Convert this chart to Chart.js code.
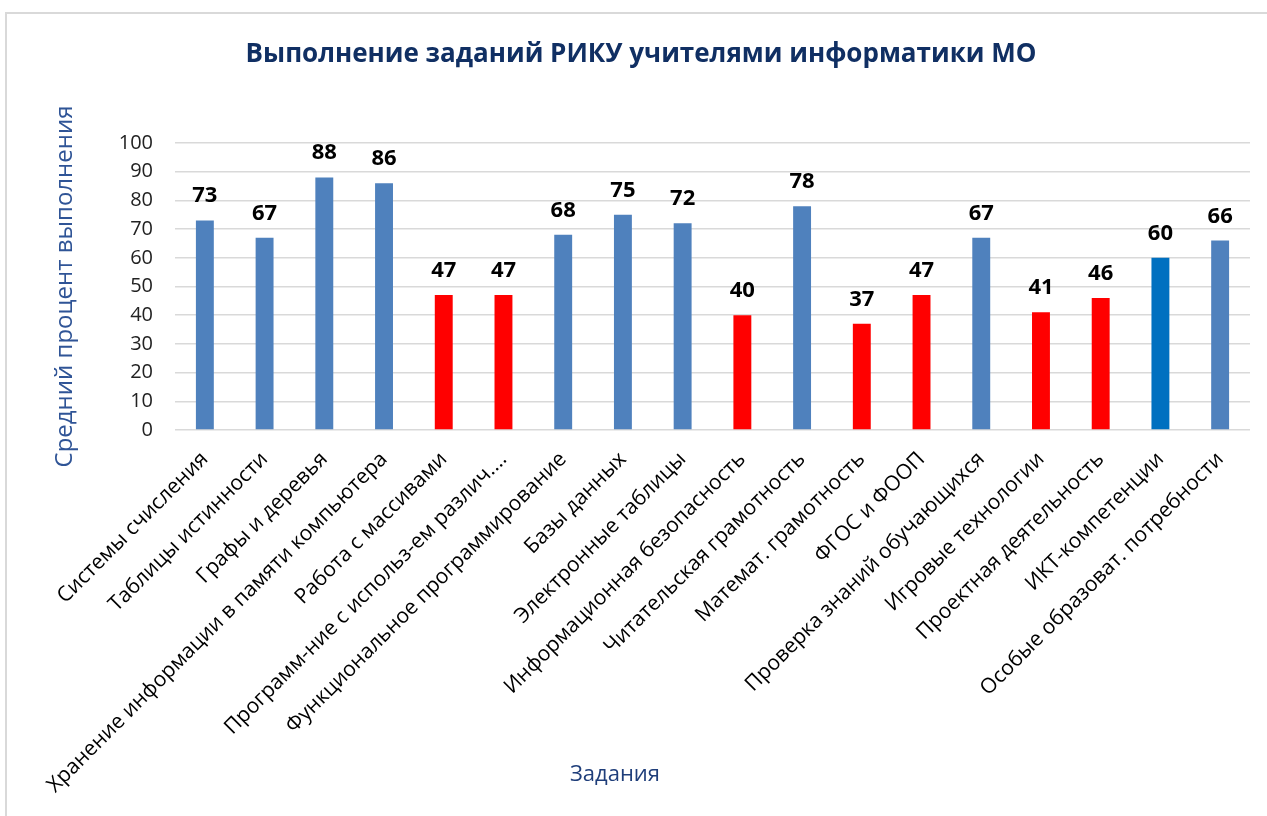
<!DOCTYPE html>
<html><head><meta charset="utf-8">
<script src="https://cdn.jsdelivr.net/npm/chart.js@4.4.1/dist/chart.umd.min.js"></script>
<style>
html,body{margin:0;padding:0;background:#fff;}
#wrap{position:relative;width:1267px;height:816px;}
#frame{position:absolute;left:5px;top:12px;right:-5px;bottom:-5px;border-top:2px solid #d9d9d9;border-left:2px solid #d9d9d9;pointer-events:none;}
canvas{position:absolute;left:0;top:0;}
</style></head>
<body>
<div id="wrap"><canvas id="c" width="1267" height="816"></canvas><div id="frame"></div></div>
<script>
const categories = [
  "Системы счисления",
  "Таблицы истинности",
  "Графы и деревья",
  "Хранение информации в памяти компьютера",
  "Работа с массивами",
  "Программ-ние с использ-ем различ....",
  "Функциональное программирование",
  "Базы данных",
  "Электронные таблицы",
  "Информационная безопасность",
  "Читательская грамотность",
  "Математ. грамотность",
  "ФГОС и ФООП",
  "Проверка знаний обучающихся",
  "Игровые технологии",
  "Проектная деятельность",
  "ИКТ-компетенции",
  "Особые образоват. потребности"
];
const values = [73, 67, 88, 86, 47, 47, 68, 75, 72, 40, 78, 37, 47, 67, 41, 46, 60, 66];
const barColors = ["#4F81BD","#4F81BD","#4F81BD","#4F81BD","#FF0000","#FF0000","#4F81BD","#4F81BD","#4F81BD","#FF0000","#4F81BD","#FF0000","#FF0000","#4F81BD","#FF0000","#FF0000","#0070C0","#4F81BD"];
const yTicks = [0,10,20,30,40,50,60,70,80,90,100];
const titleText = "Выполнение заданий РИКУ учителями информатики МО";
const yTitle = "Средний процент выполнения";
const xTitle = "Задания";

const FONT = "'Open Sans', Lato, sans-serif";

const valueLabels = {
  id: 'valueLabels',
  afterDatasetsDraw(chart) {
    const ctx = chart.ctx;
    const meta = chart.getDatasetMeta(0);
    ctx.save();
    ctx.font = "bold 22px " + FONT;
    ctx.fillStyle = "#000";
    ctx.textAlign = "center";
    ctx.textBaseline = "alphabetic";
    meta.data.forEach((bar, i) => {
      ctx.fillText(String(values[i]), bar.x, bar.y - 18);
    });
    ctx.restore();
  }
};
const texts = {
  id: 'texts',
  afterDraw(chart) {
    const ctx = chart.ctx;
    ctx.save();
    ctx.textAlign = "center";
    ctx.textBaseline = "middle";
    ctx.font = "bold 26px " + FONT;
    ctx.fillStyle = "#102F63";
    ctx.fillText(titleText, 641, 55);
    ctx.font = "22px " + FONT;
    ctx.fillStyle = "#1F3E7A";
    ctx.fillText(xTitle, 615, 775);
    ctx.restore();
  }
};

new Chart(document.getElementById('c'), {
  type: 'bar',
  data: {
    labels: categories,
    datasets: [{
      data: values,
      backgroundColor: barColors,
      barPercentage: 0.6,
      categoryPercentage: 0.5
    }]
  },
  options: {
    responsive: false,
    animation: false,
    layout: { padding: { left: 10, right: 17, top: 143, bottom: 10 } },
    plugins: {
      legend: { display: false },
      tooltip: { enabled: false },
      title: { display: false }
    },
    scales: {
      x: {
        grid: { display: false },
        border: { display: false },
        ticks: {
          color: "#000",
          font: { family: FONT, size: 21 },
          minRotation: 45,
          maxRotation: 45,
          autoSkip: false,
          padding: 9
        },
        afterFit(scale) { scale.height = 376; }
      },
      y: {
        min: 0, max: 100,
        afterBuildTicks(scale) { scale.ticks = yTicks.map(v => ({ value: v })); },
        grid: { color: "#D9D9D9", lineWidth: 1.5, drawTicks: false },
        border: { display: false },
        ticks: {
          color: "#222",
          font: { family: FONT, size: 20 },
          padding: 22
        },
        title: {
          display: true,
          text: yTitle,
          color: "#2F5496",
          font: { family: FONT, size: 24 },
          padding: { top: 41, bottom: 0 }
        },
        afterFit(scale) { scale.width = 165; }
      }
    }
  },
  plugins: [valueLabels, texts]
});
</script>
</body></html>
